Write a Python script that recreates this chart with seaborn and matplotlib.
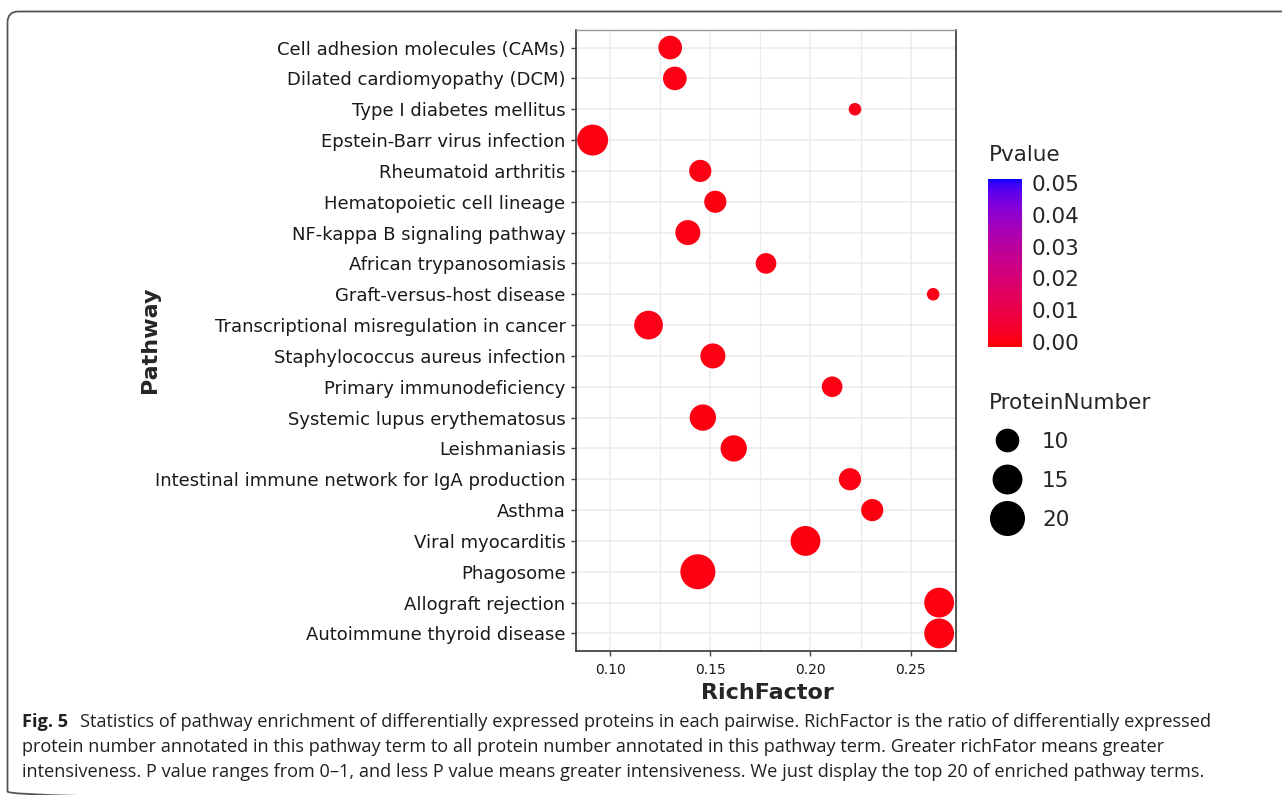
import numpy as np
import pandas as pd
import matplotlib
matplotlib.use("Agg")
import matplotlib.pyplot as plt
import seaborn as sns
from matplotlib.colors import ListedColormap, Normalize
from matplotlib.cm import ScalarMappable
from matplotlib.lines import Line2D
from matplotlib.patches import FancyBboxPatch
from matplotlib.ticker import FormatStrFormatter

# ---------------- data ----------------
pathways = [
    "Cell adhesion molecules (CAMs)",
    "Dilated cardiomyopathy (DCM)",
    "Type I diabetes mellitus",
    "Epstein-Barr virus infection",
    "Rheumatoid arthritis",
    "Hematopoietic cell lineage",
    "NF-kappa B signaling pathway",
    "African trypanosomiasis",
    "Graft-versus-host disease",
    "Transcriptional misregulation in cancer",
    "Staphylococcus aureus infection",
    "Primary immunodeficiency",
    "Systemic lupus erythematosus",
    "Leishmaniasis",
    "Intestinal immune network for IgA production",
    "Asthma",
    "Viral myocarditis",
    "Phagosome",
    "Allograft rejection",
    "Autoimmune thyroid disease",
]
rich_factor = [0.130, 0.1323, 0.2222, 0.0913, 0.1450, 0.1525, 0.1388, 0.1778,
               0.2612, 0.1192, 0.1513, 0.2108, 0.1463, 0.1617, 0.2197, 0.2308,
               0.1975, 0.1438, 0.2642, 0.2642]
protein_number = [10, 10, 4, 16, 9, 9, 11, 8, 4, 14, 11, 8, 12, 12, 9, 9, 15, 20, 15, 15]
p_value = [0.0004, 0.0006, 0.0009, 0.00001, 0.0003, 0.0002, 0.0005, 0.0008,
           0.0009, 0.0007, 0.0004, 0.0003, 0.0001, 0.0002, 0.0003, 0.0002,
           0.0001, 0.00001, 0.000001, 0.000001]
legend_sizes = [10, 15, 20]
pvalue_ticks = [0.00, 0.01, 0.02, 0.03, 0.04, 0.05]
x_ticks = [0.10, 0.15, 0.20, 0.25]
x_minor = [0.125, 0.175, 0.225]
caption_bold = "Fig. 5"
caption_lines = [
    "Statistics of pathway enrichment of differentially expressed proteins in each pairwise. RichFactor is the ratio of differentially expressed",
    "protein number annotated in this pathway term to all protein number annotated in this pathway term. Greater richFator means greater",
    "intensiveness. P value ranges from 0\u20131, and less P value means greater intensiveness. We just display the top 20 of enriched pathway terms.",
]

# ---------------- colour map (Lab interpolation red -> blue) ----------------
_M = np.array([[0.4124, 0.3576, 0.1805], [0.2126, 0.7152, 0.0722], [0.0193, 0.1192, 0.9505]])
_W = np.array([0.95047, 1.0, 1.08883])


def _to_lab(c):
    rgb = np.array(matplotlib.colors.to_rgb(c))
    lin = np.where(rgb <= 0.04045, rgb / 12.92, ((rgb + 0.055) / 1.055) ** 2.4)
    xyz = _M @ lin / _W
    f = np.where(xyz > (6 / 29) ** 3, np.cbrt(xyz), xyz / (3 * (6 / 29) ** 2) + 4 / 29)
    return np.array([116 * f[1] - 16, 500 * (f[0] - f[1]), 200 * (f[1] - f[2])])


def _from_lab(lab):
    fy_ = (lab[0] + 16) / 116
    f = np.array([fy_ + lab[1] / 500, fy_, fy_ - lab[2] / 200])
    xyz = np.where(f > 6 / 29, f ** 3, 3 * (6 / 29) ** 2 * (f - 4 / 29)) * _W
    lin = np.clip(np.linalg.inv(_M) @ xyz, 0, 1)
    rgb = np.where(lin <= 0.0031308, 12.92 * lin, 1.055 * lin ** (1 / 2.4) - 0.055)
    return np.clip(rgb, 0, 1)


lo, hi = _to_lab("#FF0000"), _to_lab("#0000FF")
cmap = ListedColormap([_from_lab(lo + t * (hi - lo)) for t in np.linspace(0, 1, 256)])
norm = Normalize(-0.0016, 0.0513)

# ---------------- figure ----------------
sns.set_theme(style="white")
plt.rcParams["font.family"] = ["DejaVu Sans"]

W, H = 1282, 795
fig = plt.figure(figsize=(W / 100, H / 100), dpi=100)


def fx(px):
    return px / W


def fy(py):
    return 1 - py / H


bg = fig.add_axes([0, 0, 1, 1])
bg.set_xlim(0, W)
bg.set_ylim(H, 0)
bg.axis("off")
bg.add_patch(FancyBboxPatch((7.5, 11.5), 1300, 791, boxstyle="round,pad=0,rounding_size=11",
                            fc="none", ec="#555555", lw=1.3))

ax = fig.add_axes([fx(576), fy(651), (956 - 576) / W, (651 - 30) / H])
df = pd.DataFrame({"Pathway": pathways, "RichFactor": rich_factor,
                   "ProteinNumber": protein_number, "Pvalue": p_value})
smin, smax, vmin, vmax = 82, 636, 4, 20
sns.scatterplot(data=df, x="RichFactor", y="Pathway", hue="Pvalue", palette=cmap,
                hue_norm=norm, size="ProteinNumber", sizes=(smin, smax),
                size_norm=(vmin, vmax), linewidth=0, legend=False, ax=ax, zorder=3)

ax.set_xlim(0.0830, 0.2726)
ax.set_ylim(19.57, -0.57)
ax.set_xticks(x_ticks)
ax.set_xticks(x_minor, minor=True)
ax.xaxis.set_major_formatter(FormatStrFormatter("%.2f"))
ax.set_axisbelow(True)
ax.grid(True, which="major", color="#EBEBEB", lw=1.1)
ax.grid(True, which="minor", axis="x", color="#EBEBEB", lw=0.9)
ax.tick_params(which="minor", length=0)
ax.tick_params(axis="both", which="major", direction="out", length=3.5, width=1.0,
               color="#444444", bottom=True, left=True)
ax.tick_params(axis="y", labelsize=13, labelcolor="#1a1a1a", pad=4)
ax.tick_params(axis="x", labelsize=10, labelcolor="#1a1a1a", pad=5)
for name, s in ax.spines.items():
    if name == "top":
        s.set_color("#9a9a9a")
        s.set_linewidth(1.0)
    else:
        s.set_color("#444444")
        s.set_linewidth(1.3)
ax.set_xlabel("")
ax.set_ylabel("")
fig.text(fx(767), fy(693), "RichFactor", fontsize=16, fontweight="bold", ha="center", va="center")
fig.text(fx(150), fy(340), "Pathway", fontsize=16, fontweight="bold", ha="center", va="center",
         rotation=90)

# colour bar
cax = fig.add_axes([fx(988), fy(347), 34 / W, 168 / H])
cb = fig.colorbar(ScalarMappable(norm=norm, cmap=cmap), cax=cax, ticks=pvalue_ticks)
cb.outline.set_visible(False)
cax.yaxis.set_major_formatter(FormatStrFormatter("%.2f"))
cax.tick_params(axis="y", direction="in", color="white", length=5, width=1,
                left=True, right=True, labelsize=15.5, pad=7)
fig.text(fx(989), fy(155), "Pvalue", fontsize=15.5, ha="left", va="center")


# size legend
def area(v):
    return smin + (smax - smin) * (v - vmin) / (vmax - vmin)


handles = [Line2D([], [], marker="o", ls="", color="black", markeredgewidth=0,
                  markersize=np.sqrt(area(v))) for v in legend_sizes]
fig.legend(handles, [str(v) for v in legend_sizes], title="ProteinNumber",
           loc="upper left", bbox_to_anchor=(fx(989), fy(393)), frameon=False,
           fontsize=15.5, title_fontsize=15.5, alignment="left", labelspacing=0.88,
           handlelength=1.67, handletextpad=0.8, borderpad=0, borderaxespad=0)

# caption
cap_kw = dict(family=["Open Sans", "DejaVu Sans"], color="#231f20", va="center", ha="left")
renderer = fig.canvas.get_renderer()


def draw_caption(fs):
    arts = []
    b = bg.text(22, 722, caption_bold, fontsize=fs, fontweight="bold", **cap_kw)
    bb = b.get_window_extent(renderer)
    r1 = bg.text(bb.x1 + 12, 722, caption_lines[0], fontsize=fs, **cap_kw)
    arts += [b, r1]
    arts.append(bg.text(22, 747, caption_lines[1], fontsize=fs, **cap_kw))
    arts.append(bg.text(22, 772, caption_lines[2], fontsize=fs, **cap_kw))
    return arts, r1.get_window_extent(renderer).x1


fs = 12
arts, right = draw_caption(fs)
fs = fs * (1210 - 22) / (right - 22)
for a in arts:
    a.remove()
draw_caption(fs)

fig.savefig("out.png", dpi=100)
